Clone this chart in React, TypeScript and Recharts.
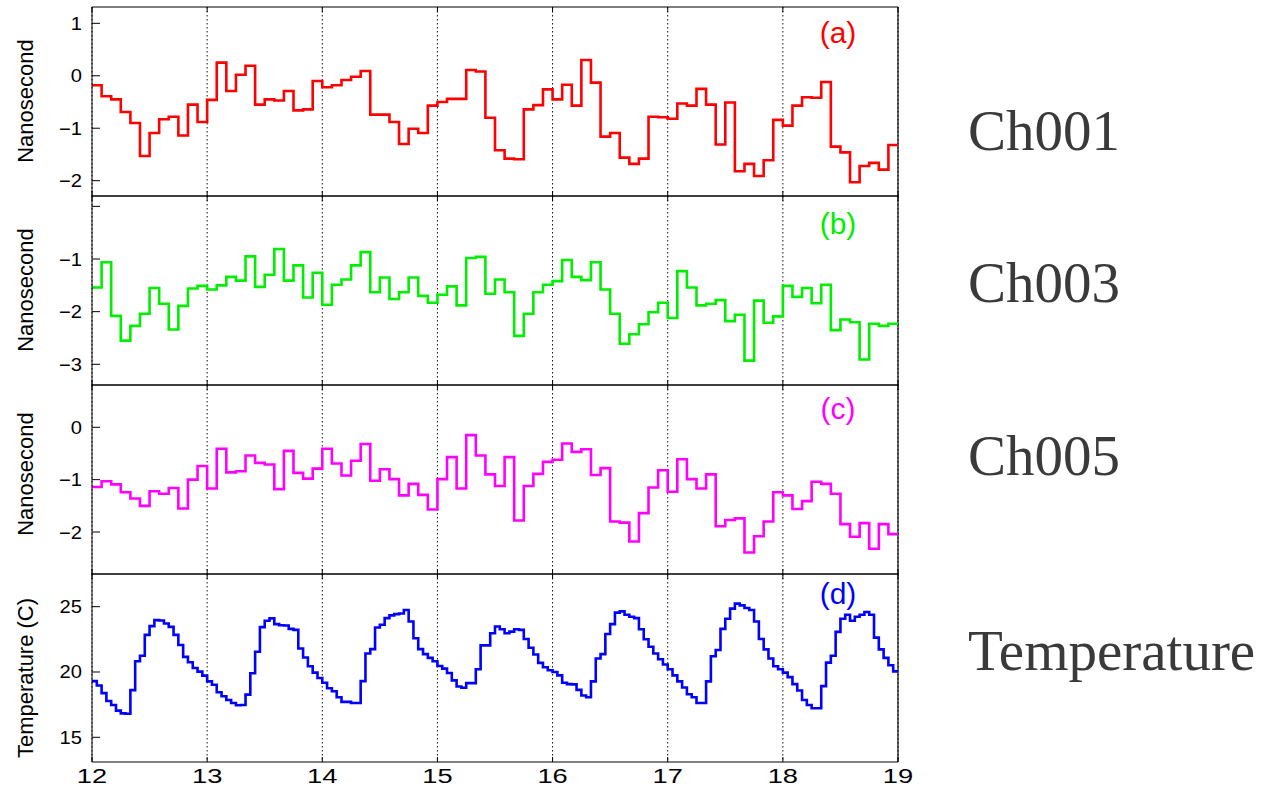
import React from 'react';
import { LineChart, Line, XAxis, YAxis, CartesianGrid, ReferenceLine } from 'recharts';

// days 12..19 on the shared x axis
const dayTicks = [12, 13, 14, 15, 16, 17, 18, 19];

// 2-hour samples (12 per day), nanoseconds
const ch001 = [
  -0.18, -0.39, -0.45, -0.69, -0.9, -1.53, -1.09, -0.83, -0.78, -1.14, -0.55, -0.88,
  -0.46, 0.25, -0.29, 0.02, 0.19, -0.55, -0.45, -0.47, -0.29, -0.66, -0.64, -0.1,
  -0.22, -0.18, -0.08, -0.02, 0.09, -0.74, -0.74, -0.88, -1.3, -1.01, -1.09, -0.57,
  -0.5, -0.44, -0.44, 0.11, 0.08, -0.8, -1.42, -1.58, -1.59, -0.64, -0.56, -0.26,
  -0.45, -0.17, -0.57, 0.3, -0.13, -1.16, -1.09, -1.56, -1.68, -1.58, -0.78, -0.79,
  -0.82, -0.53, -0.57, -0.25, -0.55, -1.31, -0.51, -1.82, -1.68, -1.91, -1.61, -0.84,
  -0.95, -0.57, -0.41, -0.42, -0.12, -1.35, -1.46, -2.03, -1.72, -1.66, -1.79, -1.32,
];

const ch003 = [
  -1.54, -1.06, -2.08, -2.55, -2.27, -2.04, -1.55, -1.85, -2.34, -1.89, -1.56, -1.51,
  -1.58, -1.5, -1.34, -1.41, -0.95, -1.53, -1.3, -0.81, -1.41, -1.12, -1.73, -1.26,
  -1.87, -1.49, -1.39, -1.12, -0.87, -1.63, -1.35, -1.76, -1.63, -1.35, -1.7, -1.83,
  -1.68, -1.52, -1.88, -0.98, -0.96, -1.66, -1.39, -1.63, -2.46, -2.04, -1.63, -1.49,
  -1.42, -1.02, -1.34, -1.4, -1.06, -1.58, -2.04, -2.61, -2.43, -2.24, -2.01, -1.83,
  -2.12, -1.23, -1.54, -1.88, -1.85, -1.78, -2.18, -2.06, -2.93, -1.79, -2.21, -2.09,
  -1.51, -1.72, -1.55, -1.84, -1.49, -2.35, -2.15, -2.2, -2.91, -2.23, -2.27, -2.23,
];

const ch005 = [
  -1.14, -1.03, -1.09, -1.24, -1.36, -1.5, -1.22, -1.27, -1.16, -1.55, -1.0, -0.74,
  -1.17, -0.41, -0.86, -0.84, -0.54, -0.68, -0.71, -1.18, -0.45, -0.87, -0.98, -0.79,
  -0.41, -0.69, -0.92, -0.64, -0.32, -1.02, -0.8, -0.99, -1.3, -1.08, -1.29, -1.57,
  -0.99, -0.57, -1.17, -0.15, -0.54, -0.9, -1.12, -0.57, -1.78, -1.12, -0.89, -0.66,
  -0.62, -0.31, -0.47, -0.42, -0.91, -0.78, -1.8, -1.82, -2.18, -1.64, -1.15, -0.82,
  -1.23, -0.61, -0.99, -1.17, -0.9, -1.89, -1.77, -1.74, -2.39, -2.08, -1.8, -1.24,
  -1.3, -1.56, -1.41, -1.04, -1.08, -1.27, -1.85, -2.09, -1.83, -2.32, -1.85, -2.04,
];

// hourly samples (24 per day), deg C
const temperature = [
  19.3, 18.97, 18.38, 17.78, 17.47, 17.04, 16.83, 16.8, 18.61, 20.82, 21.24, 22.84,
  23.51, 23.97, 23.94, 23.71, 23.45, 22.84, 22.06, 21.16, 20.75, 20.31, 20.03, 19.72,
  19.28, 19.02, 18.45, 18.14, 17.86, 17.63, 17.45, 17.47, 18.27, 19.9, 21.55, 23.43,
  23.92, 24.1, 23.66, 23.58, 23.56, 23.3, 23.22, 21.8, 21.11, 20.44, 19.95, 19.54,
  19.18, 18.76, 18.53, 18.07, 17.71, 17.71, 17.63, 17.63, 19.3, 21.42, 21.75, 23.4,
  23.61, 24.12, 24.33, 24.43, 24.48, 24.74, 23.87, 22.58, 21.75, 21.37, 21.08, 20.82,
  20.46, 20.26, 19.92, 19.36, 18.89, 18.79, 19.15, 19.15, 20.21, 22.04, 22.04, 22.96,
  23.48, 23.27, 22.96, 23.09, 23.27, 23.22, 22.53, 21.86, 21.34, 20.7, 20.36, 20.13,
  20.0, 19.74, 19.18, 19.07, 19.05, 18.63, 18.2, 18.07, 19.28, 21.03, 21.37, 22.91,
  23.66, 24.54, 24.64, 24.38, 24.23, 24.12, 23.27, 22.5, 21.93, 21.42, 20.98, 20.57,
  20.21, 19.74, 19.28, 18.81, 18.3, 18.07, 17.63, 17.63, 19.28, 21.21, 21.68, 23.3,
  24.07, 24.85, 25.23, 25.1, 24.9, 24.74, 23.87, 22.53, 21.73, 21.03, 20.44, 20.21,
  19.95, 19.61, 19.07, 18.58, 17.86, 17.47, 17.22, 17.22, 18.92, 20.72, 21.24, 23.07,
  24.07, 24.38, 23.92, 24.23, 24.38, 24.59, 24.38, 22.63, 21.73, 21.08, 20.52, 20.05,
];

const ch001Ticks = [-2, -1, 0, 1];
const ch003Ticks = [-3, -2, -1, 0];
const ch005Ticks = [-2, -1, 0];
const tempTicks = [15, 20, 25];

const PAGE_W = 1277;
const PAGE_H = 786;
const PLOT_LEFT = 92;
const PLOT_RIGHT = 898;
const CHART_W = 960;
const SANS = '"Liberation Sans", Arial, Helvetica, sans-serif';
const SERIF = '"Liberation Serif", "Times New Roman", serif';

// each sample holds until the next one; the last step is closed at day 19
const toSteps = (values: number[], perDay: number) => {
  const rows = values.map((v, i) => ({ t: 12 + i / perDay, v }));
  rows.push({ t: 19, v: values[values.length - 1] });
  return rows;
};

const fmt = (v: number) => String(v).replace('-', '\u2212');

// keeps the tick (and grid line) but draws no label
const NoLabel = () => <g />;

const XTick = (props: any) => {
  const { x, y, payload } = props;
  return (
    <g transform={`translate(${x},${y})`}>
      <text transform="scale(1.3,1)" textAnchor="middle" y={14} fontFamily={SANS} fontSize={21} fill="#000">
        {payload.value}
      </text>
    </g>
  );
};

const YTick = (props: any) => {
  const { x, y, payload, skip = [] } = props;
  if (skip.includes(payload.value)) return <g />;
  return (
    <g transform={`translate(${x},${y})`}>
      <text transform="scale(1.12,1)" textAnchor="end" dy="0.36em" fontFamily={SANS} fontSize={18} fill="#000">
        {fmt(payload.value)}
      </text>
    </g>
  );
};

interface PanelProps {
  values: number[];
  perDay: number;
  color: string;
  top: number;
  bottom: number;
  domain: [number, number];
  yTicks: number[];
  skipLabels?: number[];
  showX?: boolean;
}

const Panel: React.FC<PanelProps> = ({ values, perDay, color, top, bottom, domain, yTicks, skipLabels = [], showX = false }) => {
  const xAxisH = showX ? 30 : 1;
  return (
    <div style={{ position: 'absolute', left: 0, top: 0 }}>
      <LineChart
        width={CHART_W}
        height={PAGE_H}
        data={toSteps(values, perDay)}
        margin={{ top: top - 1, right: CHART_W - PLOT_RIGHT, bottom: PAGE_H - bottom - xAxisH, left: 0 }}
      >
        <CartesianGrid horizontal={false} stroke="#111" strokeDasharray="1.5 2.5" />
        <XAxis
          dataKey="t"
          type="number"
          domain={[12, 19]}
          ticks={dayTicks}
          interval={0}
          allowDataOverflow
          height={xAxisH}
          tickSize={-5}
          tickMargin={12}
          stroke="#000"
          tick={showX ? <XTick /> : <NoLabel />}
        />
        <XAxis
          xAxisId="top"
          orientation="top"
          dataKey="t"
          type="number"
          domain={[12, 19]}
          ticks={dayTicks}
          interval={0}
          allowDataOverflow
          height={1}
          tickSize={-5}
          stroke="#000"
          tick={<NoLabel />}
        />
        <YAxis
          type="number"
          domain={domain}
          ticks={yTicks}
          interval={0}
          allowDataOverflow
          width={PLOT_LEFT}
          tickSize={-8}
          tickMargin={18}
          stroke="#000"
          tick={<YTick skip={skipLabels} />}
        />
        <ReferenceLine x={19} stroke="#000" strokeWidth={1.2} ifOverflow="visible" />
        <Line
          type="stepAfter"
          dataKey="v"
          stroke={color}
          strokeWidth={2.6}
          dot={false}
          isAnimationActive={false}
        />
      </LineChart>
    </div>
  );
};

export default function App() {
  return (
    <div style={{ position: 'absolute', left: 0, top: 0, width: PAGE_W, height: PAGE_H, background: '#fff', overflow: 'hidden' }}>
      <Panel values={ch001} perDay={12} color="#ff0000" top={7} bottom={196} domain={[-2.292, 1.311]} yTicks={ch001Ticks} />
      <Panel values={ch003} perDay={12} color="#00ee00" top={196} bottom={385} domain={[-3.393, 0.197]} yTicks={ch003Ticks} skipLabels={[0]} />
      <Panel values={ch005} perDay={12} color="#ff00ff" top={385} bottom={574} domain={[-2.802, 0.808]} yTicks={ch005Ticks} />
      <Panel values={temperature} perDay={24} color="#0000ff" top={574} bottom={762} domain={[13.11, 27.5]} yTicks={tempTicks} showX />

      <svg width={PAGE_W} height={PAGE_H} style={{ position: 'absolute', left: 0, top: 0, pointerEvents: 'none' }}>
        <g fontFamily={SANS} fontSize={22} fill="#000" textAnchor="middle">
          <text transform="translate(33,101) rotate(-90)">Nanosecond</text>
          <text transform="translate(33,290) rotate(-90)">Nanosecond</text>
          <text transform="translate(33,474) rotate(-90)">Nanosecond</text>
          <text transform="translate(33,678) rotate(-90)">Temperature (C)</text>
        </g>
        <g fontFamily={SANS} fontSize={30} textAnchor="middle">
          <text x={838} y={43} fill="#ff0000">(a)</text>
          <text x={838} y={234} fill="#00ee00">(b)</text>
          <text x={838} y={419} fill="#ff00ff">(c)</text>
          <text x={838} y={604} fill="#0000ff">(d)</text>
        </g>
        <g fontFamily={SERIF} fontSize={57} fill="#3a3a3a">
          <text x={968} y={150}>Ch001</text>
          <text x={968} y={302}>Ch003</text>
          <text x={968} y={475}>Ch005</text>
          <text x={968} y={670}>Temperature</text>
        </g>
      </svg>
    </div>
  );
}
